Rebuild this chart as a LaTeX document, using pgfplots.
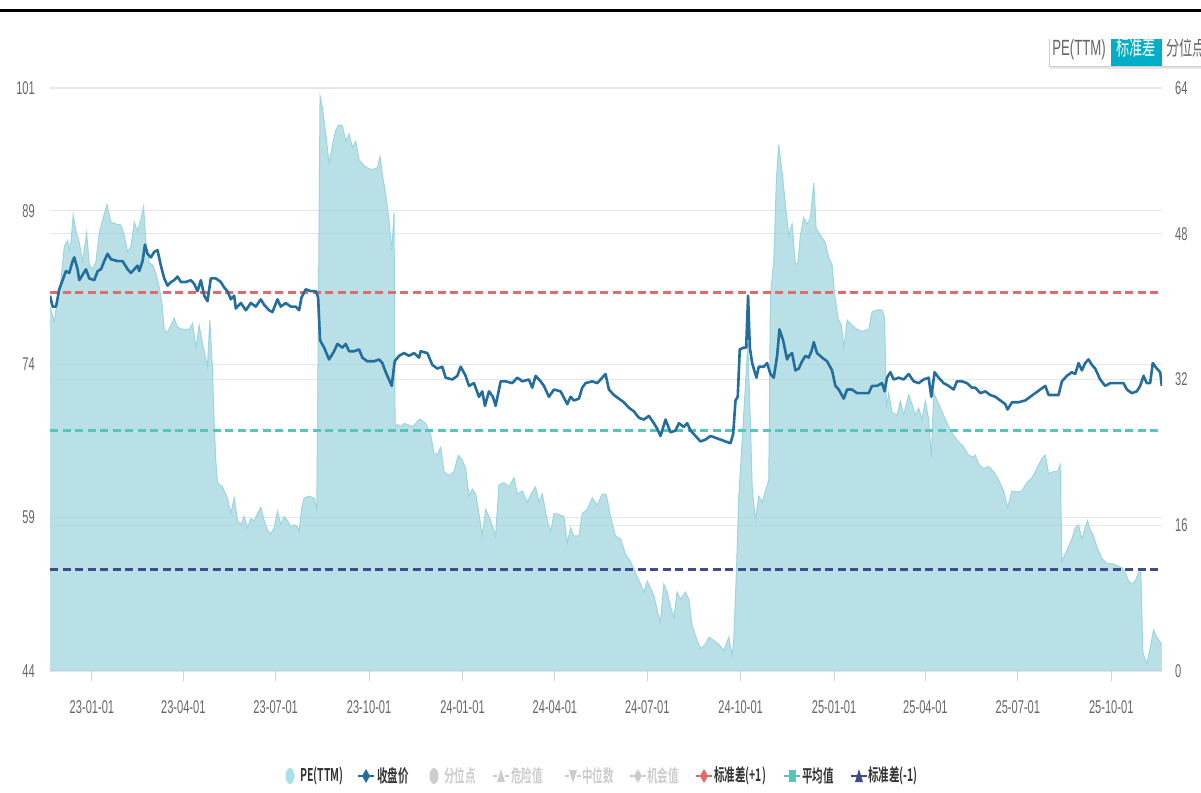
\documentclass[border=0pt]{standalone}
\usepackage{pgfplots}
\usepackage{pgfplotstable}
\pgfplotsset{compat=1.18}
\usepackage{fontspec}
\usepackage{graphicx}
\setmainfont{Liberation Sans}
\newfontfamily\cjk{Noto Sans CJK SC}[BoldFont={Noto Sans CJK SC Bold}]
\newcommand{\nt}[1]{\scalebox{0.6}[1]{#1}}
\definecolor{tickc}{HTML}{CCD6EB}
\definecolor{gridc}{HTML}{E6E6E6}
\definecolor{pefill}{HTML}{A8D8E0}
\definecolor{peline}{HTML}{9DD5DE}
\definecolor{pricec}{HTML}{236E9C}
\definecolor{redc}{HTML}{E06B6B}
\definecolor{tealc}{HTML}{5AC3BA}
\definecolor{navyc}{HTML}{3E4C8C}
\definecolor{pelegend}{HTML}{A9DFE6}
\definecolor{lgray}{HTML}{CCCCCC}
\definecolor{labc}{HTML}{666666}
\definecolor{legc}{HTML}{333333}
\definecolor{btnc}{HTML}{00AEC7}

\pgfplotstableread{
x y
-41.3 79.6
-37.1 78.2
-35.4 79.3
-30.5 82.2
-27.2 85.5
-23.9 86.1
-22.3 85.1
-20.7 85.9
-18.4 88.6
-15.7 87.0
-12.5 85.9
-9.2 84.0
-5.2 86.8
-2.6 83.7
0.7 83.3
3.9 84.0
7.2 86.8
10.5 88.1
14.8 89.6
18.7 87.9
23.6 87.7
28.5 87.6
31.8 86.6
35.1 85.0
38.4 85.5
41.7 87.9
44.9 87.0
48.2 88.1
50.9 89.4
53.1 85.9
56.4 83.9
59.7 83.7
63.0 82.9
66.3 81.5
68.9 80.0
71.2 77.4
74.5 77.1
77.8 77.8
81.0 78.5
84.3 77.6
89.2 77.4
92.5 77.4
95.8 77.4
99.1 78.0
102.4 75.6
105.6 77.8
108.9 76.0
112.2 74.5
113.8 73.8
116.1 78.3
118.8 73.4
120.4 68.2
122.0 64.6
123.7 62.4
128.6 62.0
133.5 60.9
136.8 59.4
140.1 60.9
143.4 58.7
146.7 58.3
149.9 59.1
153.2 58.0
156.5 58.9
159.8 58.7
163.1 59.4
166.3 60.0
169.6 58.7
172.9 57.8
176.2 57.4
179.5 58.0
182.7 59.6
186.0 58.3
189.3 59.1
192.6 58.7
195.9 58.1
199.1 58.3
202.4 58.1
204.1 57.6
206.4 59.8
209.0 60.9
213.9 61.1
218.8 60.9
221.5 59.8
222.8 75.6
224.7 100.2
227.0 99.1
230.3 96.5
233.6 93.6
236.9 95.4
240.2 96.9
243.4 97.4
246.7 97.3
250.0 95.8
253.3 96.5
256.6 95.2
259.8 95.8
263.1 94.0
268.0 93.4
274.6 93.0
281.2 93.2
283.8 94.3
286.1 92.5
289.4 90.6
292.6 88.1
295.3 85.1
297.6 88.8
298.6 67.9
300.9 68.1
304.1 67.9
307.4 68.2
310.7 68.1
315.6 67.9
318.9 68.2
322.2 68.6
323.8 68.6
328.7 68.2
333.7 67.1
336.9 65.3
340.2 65.1
343.5 65.9
346.8 63.5
351.7 63.1
356.6 63.5
360.9 65.1
364.8 64.6
368.1 63.8
371.4 61.1
374.7 61.8
378.0 61.3
381.2 59.4
384.5 57.2
387.8 59.8
392.7 58.7
397.6 57.2
400.9 62.2
405.8 62.4
410.8 62.0
415.7 62.9
419.0 61.3
423.9 61.6
428.8 60.5
433.7 61.5
437.0 62.0
440.3 60.5
443.6 61.3
448.5 58.7
451.8 57.6
455.1 59.4
460.0 59.3
464.9 59.1
468.2 56.5
471.5 58.0
474.7 57.2
479.7 57.2
482.9 59.4
487.9 59.8
492.8 60.9
497.7 60.2
502.6 61.3
505.9 61.3
506.9 61.1
510.8 59.1
515.7 57.2
520.7 56.9
525.6 55.4
530.5 54.7
535.4 53.6
540.4 52.5
543.6 51.7
546.9 52.8
550.2 52.1
553.5 51.4
556.8 49.9
560.0 48.8
563.3 52.5
566.6 51.7
569.9 50.3
573.2 49.2
576.4 51.7
579.7 51.0
584.6 51.7
587.9 51.0
591.2 48.4
596.1 47.0
599.4 46.2
604.3 46.6
607.6 47.3
612.5 47.0
617.5 46.6
622.4 46.0
627.3 47.3
630.6 45.5
632.2 47.0
634.8 53.6
637.1 60.9
640.4 66.4
643.7 71.9
646.0 76.0
648.6 68.2
650.3 62.0
653.5 58.7
656.8 61.1
660.1 60.5
663.4 61.6
666.7 62.7
668.3 80.7
671.6 84.0
674.2 92.1
676.5 95.4
679.8 92.8
683.1 89.5
686.4 86.6
689.6 87.7
692.9 83.7
695.5 84.0
697.8 86.6
701.1 88.3
704.4 87.7
707.7 88.3
711.0 91.7
713.3 87.3
717.5 86.6
722.4 85.9
725.7 84.4
729.0 83.7
731.6 80.7
734.9 78.5
738.2 77.8
740.5 75.6
743.8 78.3
748.7 77.8
753.6 77.4
758.5 77.2
765.1 77.4
768.4 79.1
773.3 79.3
778.2 79.3
780.8 78.5
782.5 69.7
784.8 71.2
788.1 69.3
793.0 69.0
796.3 70.4
799.5 69.0
804.5 71.0
807.7 70.1
811.0 69.0
814.3 69.7
817.6 68.6
820.9 70.4
824.1 68.6
826.8 64.9
829.1 71.2
834.0 70.1
838.9 69.0
843.8 67.9
848.8 67.0
853.7 66.4
858.6 65.9
863.5 65.1
868.4 64.9
870.1 65.1
873.4 64.2
878.3 63.8
883.2 64.0
888.1 63.5
893.0 62.7
898.0 61.6
901.9 60.0
906.2 61.6
911.1 61.5
916.0 61.6
920.9 62.4
925.9 62.9
930.8 63.8
935.7 64.8
939.0 65.1
942.3 63.3
947.2 63.5
951.1 63.5
953.7 64.2
955.4 54.7
960.3 55.8
965.2 56.9
968.5 58.0
971.8 58.3
975.1 56.9
978.3 58.0
980.6 58.7
983.3 57.8
986.5 57.2
989.8 56.1
994.8 55.0
999.7 54.5
1004.6 54.5
1009.5 54.3
1014.4 54.1
1017.7 53.6
1021.0 52.8
1024.3 52.5
1027.6 52.8
1030.8 53.6
1033.1 53.7
1035.1 45.8
1039.0 44.7
1042.3 46.2
1045.6 48.0
1048.9 47.3
1053.8 46.6
}\petable

\pgfplotstableread{
x y
-41.3 41.2
-38.7 40.0
-35.4 40.0
-32.2 41.9
-28.9 42.9
-25.6 43.9
-22.3 43.7
-19.0 45.0
-17.4 45.4
-14.1 44.1
-12.5 42.9
-9.2 43.5
-5.9 44.1
-2.6 43.1
2.3 42.9
5.6 43.9
8.9 44.1
12.1 45.0
15.4 45.8
18.7 45.2
25.3 45.0
30.2 45.0
35.1 44.1
38.4 43.7
41.7 44.1
44.9 44.5
46.6 43.9
49.9 45.0
52.2 46.8
54.8 45.8
58.1 45.4
61.3 46.0
64.6 46.2
67.9 44.5
71.2 43.1
74.5 42.3
77.8 42.7
81.0 42.9
84.3 43.3
87.6 42.7
92.5 42.7
97.4 42.9
100.7 42.5
104.0 41.7
107.3 42.9
110.6 41.2
113.8 40.6
117.1 43.1
122.0 43.1
127.0 42.7
130.2 42.1
133.5 41.7
136.8 40.8
140.1 41.2
141.7 39.8
146.7 40.4
151.6 39.6
156.5 40.4
161.4 40.0
166.3 40.8
169.6 40.2
174.5 39.6
177.8 39.4
182.7 40.8
186.0 40.0
190.9 40.4
195.9 40.0
200.8 40.0
204.1 39.6
206.4 41.0
210.6 41.9
215.6 41.7
220.5 41.7
222.8 41.0
224.7 36.3
228.7 35.5
233.6 34.2
238.5 35.1
241.8 35.9
246.7 35.5
250.0 35.9
253.3 35.1
258.2 35.1
263.1 35.3
266.4 34.4
271.3 34.0
277.9 34.0
282.8 34.2
286.1 33.8
289.4 32.8
292.6 32.0
295.3 31.3
298.2 34.0
302.5 34.6
307.4 34.9
312.3 34.6
317.3 34.9
322.2 34.4
323.8 35.1
330.4 34.9
335.3 33.6
340.2 33.2
345.1 33.4
348.4 32.2
355.0 32.0
359.9 32.4
363.2 33.4
368.1 32.4
371.4 31.3
376.3 31.6
381.2 30.1
384.5 30.7
387.1 29.1
391.1 30.7
395.0 30.1
397.6 29.1
402.6 31.8
407.5 31.8
414.0 31.6
419.0 32.2
423.9 31.8
430.4 32.0
433.7 31.1
437.0 32.4
441.9 31.8
445.2 31.3
450.1 30.1
455.1 30.9
461.6 30.7
468.2 29.3
471.5 30.1
474.7 29.7
479.7 29.9
482.9 31.1
486.2 31.6
492.8 31.8
497.7 31.6
501.0 32.0
505.9 32.6
509.2 30.9
514.1 30.3
519.0 29.9
523.9 29.5
528.9 28.9
533.8 28.5
538.7 27.8
543.6 27.6
548.6 28.0
553.5 27.2
556.8 26.6
560.0 25.8
565.0 27.6
569.9 26.2
574.8 26.4
578.1 27.2
583.0 26.8
586.3 27.2
589.6 26.4
594.5 25.8
599.4 25.2
604.3 25.4
609.3 25.8
614.2 25.6
619.1 25.4
624.0 25.2
628.9 25.0
631.6 26.0
633.9 29.7
636.1 30.1
638.1 35.3
642.1 35.5
644.4 35.5
646.3 41.2
648.0 35.5
650.3 33.8
654.5 32.2
656.8 33.4
661.7 33.4
665.0 33.8
668.3 32.6
671.6 32.2
674.9 34.6
677.2 37.5
680.8 36.3
684.7 34.2
686.4 34.6
689.6 34.9
692.9 33.0
696.2 33.2
699.5 34.0
702.8 34.6
706.0 34.4
708.7 35.1
711.0 36.1
714.2 34.9
719.2 34.4
724.1 34.0
729.0 33.0
732.3 31.3
735.6 30.9
740.5 29.9
743.8 30.9
748.7 30.9
753.6 30.5
760.2 30.5
765.1 30.5
768.4 31.3
773.3 31.3
778.2 31.6
780.8 30.7
783.1 32.2
786.4 32.8
789.7 32.0
794.6 32.2
799.5 32.0
804.5 32.6
809.4 31.8
814.3 31.6
819.2 32.0
824.1 32.2
826.8 30.1
830.0 32.8
834.0 32.2
838.9 31.6
843.8 31.3
848.8 30.9
852.0 31.8
857.0 31.8
861.9 31.6
866.8 31.1
870.1 31.1
875.0 30.5
879.9 30.7
884.8 30.3
889.8 30.1
894.7 29.7
899.6 29.3
901.9 28.7
906.2 29.5
912.7 29.5
919.3 29.7
924.2 30.1
929.1 30.5
934.1 30.9
939.0 31.3
942.3 30.3
947.2 30.3
952.1 30.3
955.4 31.8
960.3 32.4
965.2 32.8
968.5 32.6
971.8 33.8
975.1 33.0
978.3 33.8
981.6 34.2
984.9 33.6
988.2 33.2
993.1 32.0
998.0 31.3
1002.9 31.6
1009.5 31.6
1016.1 31.6
1019.4 30.9
1024.3 30.5
1029.2 30.7
1032.5 31.3
1035.8 32.4
1039.0 31.6
1042.3 31.6
1044.9 33.8
1048.9 33.2
1052.2 32.8
1053.8 31.3
}\pricetable

\begin{document}
\begin{tikzpicture}[x=1pt,y=1pt]
\path[use as bounding box] (0,0) rectangle (1201,792);

\begin{axis}[
  at={(50pt,121pt)}, anchor=south west,
  scale only axis, width=1112pt, height=583pt,
  xmin=-41.3, xmax=1054, ymin=44, ymax=101,
  axis x line*=bottom, axis y line*=left,
  y axis line style={draw=none},
  x axis line style={draw=tickc, line width=1pt},
  tick align=outside, major tick length=10pt,
  xtick={0,90,181,273,365,456,547,639,731,821,912,1004},
  xticklabels={\nt{23-01-01},\nt{23-04-01},\nt{23-07-01},\nt{23-10-01},\nt{24-01-01},\nt{24-04-01},\nt{24-07-01},\nt{24-10-01},\nt{25-01-01},\nt{25-04-01},\nt{25-07-01},\nt{25-10-01}},
  xtick style={draw=tickc, line width=1pt},
  ytick={44,59,74,89,101},
  yticklabels={\nt{44},\nt{59},\nt{74},\nt{89},\nt{101}},
  ytick style={draw=none},
  extra y ticks={58.25,72.5,86.75},
  extra y tick labels={},
  extra y tick style={grid=major, ytick style={draw=none}},
  ymajorgrids,
  grid style={draw=gridc, line width=1.2pt},
  ticklabel style={font=\fontsize{18.5}{20}\selectfont, text=labc, inner sep=0pt},
  xticklabel style={anchor=north, yshift=-19pt},
  yticklabel style={anchor=east, xshift=-5pt},
  clip=true,
]
\addplot[draw=none, fill=pefill, fill opacity=0.8] table {\petable} \closedcycle;
\addplot[draw=peline, line width=1pt] table {\petable};
\addplot[draw=redc, line width=3pt, dash pattern=on 8pt off 4.5pt] coordinates {(-41.3,81.0) (1054,81.0)};
\addplot[draw=tealc, line width=3pt, dash pattern=on 8pt off 4.5pt] coordinates {(-41.3,67.5) (1054,67.5)};
\addplot[draw=navyc, line width=3pt, dash pattern=on 8pt off 4.5pt] coordinates {(-41.3,53.9) (1054,53.9)};
\end{axis}

\begin{axis}[
  at={(50pt,121pt)}, anchor=south west,
  scale only axis, width=1112pt, height=583pt,
  xmin=-41.3, xmax=1054, ymin=0, ymax=64,
  hide x axis,
  axis y line*=right,
  y axis line style={draw=none},
  ytick={0,16,32,48,64},
  yticklabels={\nt{0},\nt{16},\nt{32},\nt{48},\nt{64}},
  ytick style={draw=none},
  tick align=outside, major tick length=10pt,
  ticklabel style={font=\fontsize{18.5}{20}\selectfont, text=labc, inner sep=0pt},
  yticklabel style={anchor=west, xshift=3pt},
  clip=true,
]
\addplot[draw=pricec, line width=2.6pt, line join=round] table {\pricetable};
\end{axis}

% top buttons
\draw[gridc, line width=2pt] (1050,723.5) -- (1201,723.5);
\fill[white] (1049,725.5) rectangle (1201,766);
\draw[lgray, line width=1pt] (1049,725.5) rectangle (1215,766);
\fill[btnc] (1111,725.5) rectangle (1162,766);
\node[anchor=base, inner sep=0pt, text=labc, font=\fontsize{22}{24}\selectfont] at (1079,736) {\nt{PE(TTM)}};
\node[anchor=base, inner sep=0pt, text=white, font=\cjk\fontsize{22}{24}\selectfont] at (1136,736) {\nt{标准差}};
\node[anchor=base, inner sep=0pt, text=labc, font=\cjk\fontsize{22}{24}\selectfont] at (1186,736) {\nt{分位点}};
\fill[white] (1040,753) rectangle (1201,779);
\draw[black, line width=2.5pt] (0,781.5) -- (1201,781.5);

% legend
\tikzset{lt/.style={anchor=west, inner sep=0pt, font=\cjk\bfseries\fontsize{17.5}{20}\selectfont, text=legc},
         lg/.style={anchor=west, inner sep=0pt, font=\cjk\bfseries\fontsize{17.5}{20}\selectfont, text=lgray}}
\fill[pelegend] (290,16) ellipse [x radius=4.5, y radius=8];
\node[lt] at (300,16) {\nt{PE(TTM)}};
\draw[pricec, line width=2pt] (358,16) -- (374,16);
\fill[pricec] (362,16) -- (366,23) -- (370,16) -- (366,9) -- cycle;
\node[lt] at (377,16) {\nt{收盘价}};
\fill[lgray] (434,16) ellipse [x radius=4.5, y radius=8];
\node[lg] at (444,16) {\nt{分位点}};
\draw[lgray, line width=2pt, dash pattern=on 4pt off 2pt] (493,16) -- (509,16);
\fill[lgray] (497,10) -- (501,23) -- (505,10) -- cycle;
\node[lg] at (511,16) {\nt{危险值}};
\draw[lgray, line width=2pt, dash pattern=on 4pt off 2pt] (565,16) -- (581,16);
\fill[lgray] (569,22) -- (573,9) -- (577,22) -- cycle;
\node[lg] at (582,16) {\nt{中位数}};
\draw[lgray, line width=2pt, dash pattern=on 4pt off 2pt] (630,16) -- (646,16);
\fill[lgray] (634,16) -- (638,23) -- (642,16) -- (638,9) -- cycle;
\node[lg] at (647,16) {\nt{机会值}};
\draw[redc, line width=2pt] (696,16) -- (712,16);
\fill[redc] (700,16) -- (704,23) -- (708,16) -- (704,9) -- cycle;
\node[lt] at (714,16) {\nt{标准差(+1)}};
\draw[tealc, line width=2pt] (784,16) -- (800,16);
\fill[tealc] (788.5,10) rectangle (795.5,22);
\node[lt] at (802,16) {\nt{平均值}};
\draw[navyc, line width=2pt] (851,16) -- (867,16);
\fill[navyc] (855,10) -- (859,23) -- (863,10) -- cycle;
\node[lt] at (868,16) {\nt{标准差(-1)}};
\end{tikzpicture}
\end{document}
